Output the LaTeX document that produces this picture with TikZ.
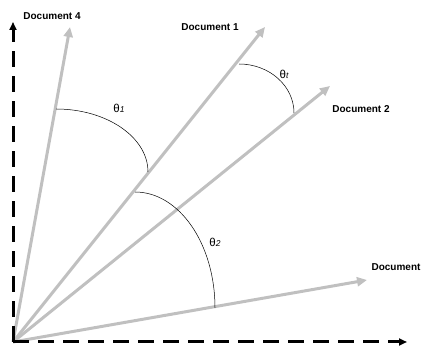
\documentclass[tikz,border=0pt]{standalone}
\usepackage{fontspec}
\setmainfont{Liberation Sans}
\usepackage{tikz}
\usetikzlibrary{arrows.meta}
\definecolor{vecgray}{RGB}{192,192,192}
\newcommand{\thetaidx}[1]{θ{\fontsize{8.5}{8.5}\selectfont\itshape #1}}
\tikzset{
    axis/.style={line width=3pt, dash pattern=on 16pt off 9pt, -{Triangle[length=8pt, width=7pt]}},
    docvec/.style={vecgray, line width=3pt, -{Triangle[length=10pt, width=9pt]}},
    doclabel/.style={font=\fontsize{10}{12}\selectfont\bfseries, inner sep=0pt},
    anglelabel/.style={font=\fontsize{11.5}{13}\selectfont, inner sep=0pt},
    anglearc/.style={line width=0.5pt}
}
\begin{document}
\begin{tikzpicture}[x=1pt, y=1pt]
    \useasboundingbox (0,0) rectangle (425,347);
    \coordinate (O) at (13,5);
    \coordinate (yaxis) at (13,325);
    \coordinate (xaxis) at (407,5);
    \coordinate (d4) at (70,320);
    \coordinate (d1) at (265,320);
    \coordinate (d2) at (330,261);
    \coordinate (d0) at (367,67);

    % vectors
    \draw[docvec] (O) -- (d4);
    \draw[docvec] (O) -- (d1);
    \draw[docvec] (O) -- (d2);
    \draw[docvec] (O) -- (d0);

    % axes
    \draw[axis] (O) -- (yaxis);
    \draw[axis] (O) -- (xaxis);

    % angles
    \coordinate (a1) at (56,238);
    \coordinate (at) at (239,283);
    \coordinate (a2) at (135,155);
    \draw[anglearc] (a1) arc[start angle=90, end angle=0, x radius=92pt, y radius=63pt];
    \draw[anglearc] (at) arc[start angle=90, end angle=0, x radius=55pt, y radius=49pt];
    \draw[anglearc] (a2) arc[start angle=90, end angle=0, x radius=80pt, y radius=116pt];

    \path
        node[doclabel] (lbl-d4) at (52,331) {Document 4}
        node[doclabel] (lbl-d1) at (210,320) {Document 1}
        node[doclabel] (lbl-d2) at (361,238) {Document 2}
        node[doclabel] (lbl-d0) at (396,80) {Document}
        node[anglelabel] (lbl-a1) at (119,239) {\thetaidx{1}}
        node[anglelabel] (lbl-at) at (284,273) {\thetaidx{t}}
        node[anglelabel] (lbl-a2) at (215,105) {\thetaidx{2}};
\end{tikzpicture}
\end{document}
